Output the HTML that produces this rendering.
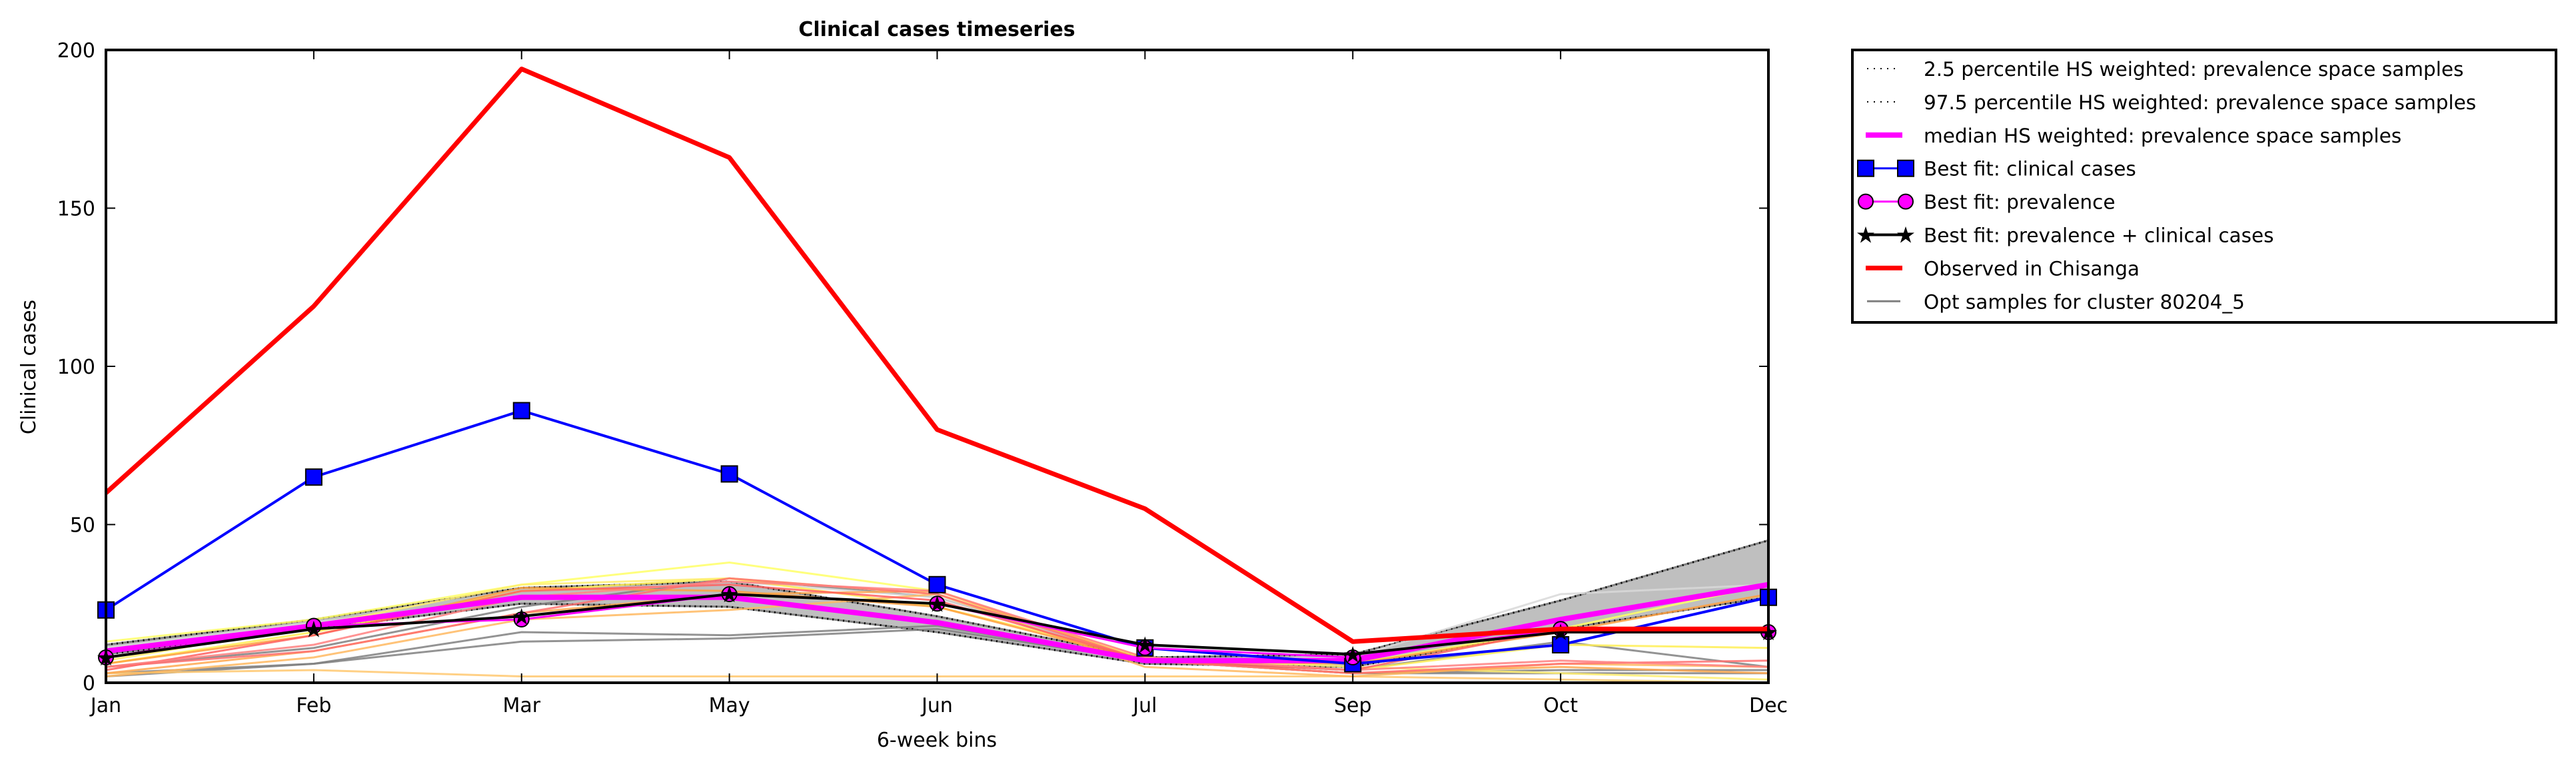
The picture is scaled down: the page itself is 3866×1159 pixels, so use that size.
<!DOCTYPE html>
<html><head><meta charset="utf-8"><style>
html,body{margin:0;padding:0;background:#fff}
svg{display:block;font-family:"DejaVu Sans","Liberation Sans",sans-serif}
</style></head><body>
<svg id="chart" width="3866" height="1159" viewBox="0 0 3866 1159" xmlns="http://www.w3.org/2000/svg">
<rect width="3866" height="1159" fill="#fff"/>
<text x="1406" y="54" font-size="30" font-weight="bold" text-anchor="middle">Clinical cases timeseries</text>
<g id="plot"></g>
<text x="1406" y="1121" font-size="30" text-anchor="middle">6-week bins</text>
<text transform="translate(53,551) rotate(-90)" font-size="30" text-anchor="middle">Clinical cases</text>
<g id="legend"></g>
</svg>
<script>
const categories = ["Jan","Feb","Mar","May","Jun","Jul","Sep","Oct","Dec"];
const yTicks = [0,50,100,150,200];
const observed = [60,119,194,166,80,55,13,17,17];
const bestClinical = [23,65,86,66,31,11,6,12,27];
const bestPrevalence = [8,18,20,28,25,11,8,17,16];
const bestBoth = [8,17,21,28,25,12,9,16,16];
const median = [10,18,27,27,19,7,7,20,31];
const p975 = [12,20,30,32,21,8,9,26,45];
const p025 = [9,17,25,24,16,6,5,17,27];
const sampleGray1 = [3,6,16,15,18,7,3,4,4];
const sampleGray2 = [2,6,13,14,17,7,3,3,3];
const sampleGray3 = [5,11,24,33,27,7,4,13,5];
const sampleGray4 = [11,19,27,32,27,7,8,28,31];
const sampleYellow1 = [13,20,31,38,29,7,6,17,31];
const sampleYellow2 = [6,16,29,33,24,8,4,12,11];
const sampleYellow3 = [7,18,31,33,28,8,5,3,1];
const sampleOrange1 = [3,4,2,2,2,2,2,1,0];
const sampleOrange2 = [2,8,20,23,28,5,2,6,5];
const sampleOrange3 = [3,10,22,28,29,7,3,5,3];
const sampleOrange4 = [6,15,30,29,24,7,6,16,28];
const sampleRed1 = [5,10,22,33,28,7,3,6,7];
const sampleRed2 = [4,15,29,31,26,7,4,17,17];
const sampleRed3 = [5,12,27,32,29,8,4,7,5];
const samples = [
 [sampleGray1,"#808080"],[sampleGray2,"#808080"],[sampleGray3,"#808080"],[sampleGray4,"#d8d8d8"],
 [sampleYellow1,"#ffff66"],[sampleYellow2,"#ffee55"],[sampleYellow3,"#ffef70"],
 [sampleOrange1,"#ffc870"],[sampleOrange2,"#ffb860"],[sampleOrange3,"#ffa850"],[sampleOrange4,"#ffa040"],
 [sampleRed1,"#ff7070"],[sampleRed2,"#ff6060"],[sampleRed3,"#ff8080"]
];
const NS="http://www.w3.org/2000/svg";
const L=159,R=2654,T=75,B=1025;
const xs=i=>L+(R-L)*i/(categories.length-1);
const ys=v=>B-(B-T)*v/200;
function mk(tag,attrs,parent){const e=document.createElementNS(NS,tag);for(const k in attrs)e.setAttribute(k,attrs[k]);parent.appendChild(e);return e;}
const plot=document.getElementById('plot');
const pts=a=>a.map((v,i)=>xs(i)+","+ys(v)).join(" ");
let band=mk('polygon',{points:pts(p975)+" "+p025.map((v,i)=>[xs(i),ys(v)]).reverse().map(p=>p.join(",")).join(" "),fill:"#bfbfbf",stroke:"#808080","stroke-width":3},plot);


[[p975,'p97-5-line'],[p025,'p2-5-line']].forEach(([a,n])=>{
 const e=mk('polyline',{points:pts(a),fill:"none",stroke:"#000","stroke-width":3,"stroke-dasharray":"2 6"},plot);
 
 
});
samples.forEach(([a,c],k)=>{
 const e=mk('polyline',{points:pts(a),fill:"none",stroke:c,"stroke-width":3,opacity:0.85},plot);
 
 
});
let m=mk('polyline',{points:pts(median),fill:"none",stroke:"#ff00ff","stroke-width":8},plot);


let bc=mk('polyline',{points:pts(bestClinical),fill:"none",stroke:"#0000ff","stroke-width":4},plot);


bestClinical.forEach((v,i)=>{
 const e=mk('rect',{x:xs(i)-12,y:ys(v)-12,width:24,height:24,fill:"#0000ff",stroke:"#000","stroke-width":2},plot);
 
 
});
let bp=mk('polyline',{points:pts(bestPrevalence),fill:"none",stroke:"#ff00ff","stroke-width":3},plot);


bestPrevalence.forEach((v,i)=>{
 const e=mk('circle',{cx:xs(i),cy:ys(v),r:11,fill:"#ff00ff",stroke:"#000","stroke-width":2},plot);
 
 
});
let bb=mk('polyline',{points:pts(bestBoth),fill:"none",stroke:"#000","stroke-width":4},plot);


bestBoth.forEach((v,i)=>{
 const e=mk('text',{x:xs(i),y:ys(v)+12,"font-size":34,"text-anchor":"middle",fill:"#000"},plot);
 e.textContent="★";
 
 
});
let ob=mk('polyline',{points:pts(observed),fill:"none",stroke:"#ff0000","stroke-width":7,"stroke-linejoin":"round"},plot);


let fr=mk('rect',{x:L,y:T,width:R-L,height:B-T,fill:"none",stroke:"#000","stroke-width":4},plot);


categories.forEach((c,i)=>{
 mk('line',{x1:xs(i),x2:xs(i),y1:B,y2:B-14,stroke:"#000","stroke-width":2},plot);
 mk('line',{x1:xs(i),x2:xs(i),y1:T,y2:T+14,stroke:"#000","stroke-width":2},plot);
 const t=mk('text',{x:xs(i),y:1069,"font-size":30,"text-anchor":"middle"},plot);
 t.textContent=c;
 
 
});
yTicks.forEach(v=>{
 mk('line',{x1:L,x2:L+14,y1:ys(v),y2:ys(v),stroke:"#000","stroke-width":2},plot);
 mk('line',{x1:R,x2:R-14,y1:ys(v),y2:ys(v),stroke:"#000","stroke-width":2},plot);
 const t=mk('text',{x:143,y:ys(v)+11,"font-size":30,"text-anchor":"end"},plot);
 t.textContent=v;
 
 
});
const lg=document.getElementById('legend');
mk('rect',{x:2780,y:75,width:1056,height:409,fill:"#fff",stroke:"#000","stroke-width":4},lg);
const items=["2.5 percentile HS weighted: prevalence space samples","97.5 percentile HS weighted: prevalence space samples","median HS weighted: prevalence space samples","Best fit: clinical cases","Best fit: prevalence","Best fit: prevalence + clinical cases","Observed in Chisanga","Opt samples for cluster 80204_5"];
items.forEach((s,k)=>{
 const y=103+k*49.9;
 if(k<2) mk('line',{x1:2802,x2:2850,y1:y,y2:y,stroke:"#000","stroke-width":2,"stroke-dasharray":"2 8"},lg);
 if(k==2) mk('line',{x1:2800,x2:2855,y1:y,y2:y,stroke:"#ff00ff","stroke-width":8},lg);
 if(k==3){mk('line',{x1:2800,x2:2860,y1:y,y2:y,stroke:"#00f","stroke-width":3},lg);[2800,2860].forEach(x=>mk('rect',{x:x-12,y:y-12,width:24,height:24,fill:"#00f",stroke:"#000","stroke-width":2},lg));}
 if(k==4){mk('line',{x1:2800,x2:2860,y1:y,y2:y,stroke:"#f0f","stroke-width":3},lg);[2800,2860].forEach(x=>mk('circle',{cx:x,cy:y,r:11,fill:"#f0f",stroke:"#000","stroke-width":2},lg));}
 if(k==5){mk('line',{x1:2800,x2:2860,y1:y,y2:y,stroke:"#000","stroke-width":4},lg);[2800,2860].forEach(x=>{const st=mk('text',{x:x,y:y+12,"font-size":34,"text-anchor":"middle"},lg);st.textContent="★";});}
 if(k==6) mk('line',{x1:2800,x2:2855,y1:y,y2:y,stroke:"#f00","stroke-width":7},lg);
 if(k==7) mk('line',{x1:2802,x2:2852,y1:y,y2:y,stroke:"#808080","stroke-width":3},lg);
 const t=mk('text',{x:2887,y:y+11,"font-size":29.5},lg);
 t.textContent=s;
 
 
});
</script>
</body></html>
